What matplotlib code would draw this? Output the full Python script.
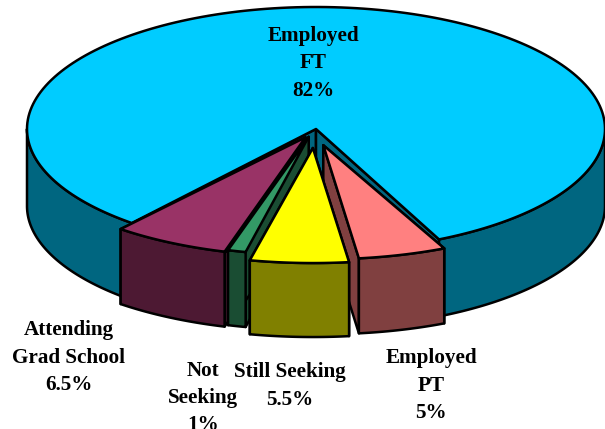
import numpy as np
import matplotlib
matplotlib.use("Agg")
import matplotlib.pyplot as plt
from matplotlib.patches import Polygon

# slices go clockwise on screen, starting at the right edge of the pink one
names = ["Employed\nPT\n5%", "Still Seeking\n5.5%", "Not\nSeeking\n1%",
         "Attending\nGrad School\n6.5%", "Employed\nFT\n82%"]
values = [5, 5.5, 1, 6.5, 82]
top_colors = ["#FF8080", "#FFFF00", "#339966", "#993366", "#00CCFF"]
side_colors = ["#804040", "#808000", "#1A4D33", "#4D1933", "#006680"]
explode = [0.13, 0.157, 0.06, 0.07, 0.0]
radius_x = [284, 289, 289, 290, 289]
radius_y = [114, 115, 118, 119, 122]
depths = [75, 74, 75, 75, 77]
nudge_x = [-3, -1, -3, -1, 0]
nudge_y = [2, 1, 1, 1, 0]
label_x = [431, 290, 203, 69, 313]
label_y = [386, 386, 398, 358, 63]

start_angle = 64.8
cx, cy = 316, 129
lw = 1.8
draw_order = [4, 3, 0, 2, 1]

fig = plt.figure(figsize=(6.05, 4.29), dpi=100)
ax = fig.add_axes([0, 0, 1, 1])
ax.set_xlim(0, 605)
ax.set_ylim(429, 0)
ax.axis("off")


def rim(x0, y0, i, a0, a1):
    t = np.radians(np.linspace(a0, a1, 200))
    return np.column_stack([x0 + radius_x[i] * np.cos(t), y0 + radius_y[i] * np.sin(t)])


def poly(pts, color, z):
    ax.add_patch(Polygon(pts, closed=True, facecolor=color, edgecolor="black",
                         linewidth=lw, joinstyle="round", zorder=z))


def draw_slice(i, z):
    a0 = start_angle + sum(values[:i]) * 3.6
    a1 = a0 + values[i] * 3.6
    mid = np.radians((a0 + a1) / 2)
    x0 = cx + nudge_x[i] + explode[i] * radius_x[i] * np.cos(mid)
    y0 = cy + nudge_y[i] + explode[i] * radius_y[i] * np.sin(mid)
    apex = np.array([x0, y0])
    down = np.array([0, depths[i]])

    # cut faces
    for a in (a0, a1):
        p = rim(x0, y0, i, a, a)[0]
        poly([apex, apex + down, p + down, p], side_colors[i], z)

    # outer wall, only the front half of the circle shows
    for lo, hi in ((a0, min(a1, 180)), (max(a0, 360), a1)):
        if hi > lo:
            edge = rim(x0, y0, i, lo, hi)
            poly(np.vstack([edge, (edge + down)[::-1]]), side_colors[i], z + 0.1)

    poly(np.vstack([apex, rim(x0, y0, i, a0, a1)]), top_colors[i], z + 0.2)


for n, i in enumerate(draw_order):
    draw_slice(i, n + 1)

for i in range(len(names)):
    ax.text(label_x[i], label_y[i], names[i], ha="center", va="center",
            family="Liberation Serif", weight="bold", fontsize=15.2,
            linespacing=1.5, zorder=20, clip_on=True)

fig.savefig("out.png", dpi=100)
